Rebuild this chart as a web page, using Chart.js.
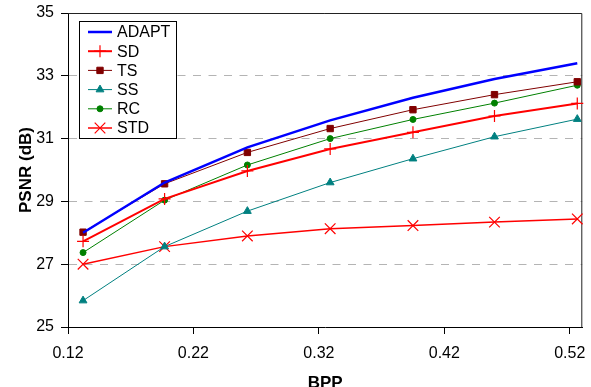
<!DOCTYPE html>
<html>
<head>
<meta charset="utf-8">
<script src="https://cdn.jsdelivr.net/npm/chart.js@4.4.1/dist/chart.umd.min.js"></script>
<style>
  html, body { margin: 0; padding: 0; background: #fff; }
  #wrap { width: 591px; height: 387px; }
</style>
</head>
<body>
<div id="wrap"><canvas id="psnrChart" width="591" height="387"></canvas></div>
<script>
// valeurs
const bpp = [0.132, 0.197, 0.263, 0.329, 0.395, 0.460, 0.526];
const adapt = [28.0, 29.6, 30.72, 31.58, 32.3, 32.9, 33.4];
const sd = [27.73, 29.08, 29.97, 30.67, 31.2, 31.72, 32.12];
const ts = [28.02, 29.56, 30.56, 31.32, 31.92, 32.4, 32.81];
const ss = [25.84, 27.56, 28.69, 29.6, 30.36, 31.06, 31.62];
const rc = [27.37, 29.04, 30.16, 31.0, 31.61, 32.13, 32.7];
const std = [27.0, 27.56, 27.9, 28.13, 28.23, 28.34, 28.44];
const xTickValues = [0.12, 0.22, 0.32, 0.42, 0.52];
const xTickLabels = ['0.12', '0.22', '0.32', '0.42', '0.52'];
const gridValues = [27, 29, 31, 33];

const FONT = '"Liberation Sans", Arial, sans-serif';
Chart.defaults.font.family = FONT;
Chart.defaults.font.size = 16;
Chart.defaults.color = '#000';

function toPoints(values) {
  return values.map((v, i) => ({ x: bpp[i], y: v }));
}

function makeSeries(label, values, color, width, style, radius, markerWidth) {
  return {
    label: label,
    data: toPoints(values),
    borderColor: color,
    backgroundColor: color,
    borderWidth: width,
    pointStyle: style,
    pointRadius: radius,
    pointHoverRadius: radius,
    pointBackgroundColor: color,
    pointBorderColor: color,
    pointBorderWidth: markerWidth,
    tension: 0,
    clip: false
  };
}

// légende dessinée dans la zone du graphique
const legendBox = {
  id: 'legendBox',
  afterDraw(chart) {
    const ctx = chart.ctx;
    ctx.save();
    ctx.fillStyle = '#fff';
    ctx.fillRect(79.5, 21.5, 97, 117);
    ctx.strokeStyle = '#000';
    ctx.lineWidth = 1;
    ctx.strokeRect(79.5, 21.5, 97, 117);
    ctx.font = '16px ' + FONT;
    ctx.textBaseline = 'middle';
    ctx.textAlign = 'left';
    chart.data.datasets.forEach((ds, i) => {
      const y = 32 + i * 19.2;
      ctx.strokeStyle = ds.borderColor;
      ctx.lineWidth = ds.borderWidth;
      ctx.beginPath();
      ctx.moveTo(88, y);
      ctx.lineTo(112, y);
      ctx.stroke();
      if (ds.pointRadius > 0) {
        ctx.fillStyle = ds.pointBackgroundColor;
        ctx.strokeStyle = ds.pointBorderColor;
        ctx.lineWidth = ds.pointBorderWidth;
        Chart.helpers.drawPoint(ctx, {
          pointStyle: ds.pointStyle, radius: ds.pointRadius, rotation: 0, borderWidth: ds.pointBorderWidth
        }, 100, y);
      }
      ctx.fillStyle = '#000';
      ctx.fillText(ds.label, 117, y + 1);
    });
    ctx.restore();
  }
};

// cadre haut et droite
const frame = {
  id: 'frame',
  beforeDatasetsDraw(chart) {
    const a = chart.chartArea;
    const ctx = chart.ctx;
    ctx.save();
    ctx.strokeStyle = '#222';
    ctx.lineWidth = 1;
    ctx.beginPath();
    ctx.moveTo(a.left, a.top + 0.5);
    ctx.lineTo(a.right - 0.5, a.top + 0.5);
    ctx.lineTo(a.right - 0.5, a.bottom);
    ctx.stroke();
    ctx.restore();
  }
};

new Chart(document.getElementById('psnrChart').getContext('2d'), {
  type: 'line',
  data: {
    datasets: [
      makeSeries('ADAPT', adapt, '#0000ff', 2.5, 'circle', 0, 0),
      makeSeries('SD', sd, '#ff0000', 2, 'cross', 6, 1.2),
      makeSeries('TS', ts, '#800000', 1, 'rect', 4.5, 1),
      makeSeries('SS', ss, '#008080', 1, 'triangle', 4.5, 1),
      makeSeries('RC', rc, '#008000', 1, 'circle', 3, 1),
      makeSeries('STD', std, '#ff0000', 1.5, 'crossRot', 7.5, 1.2)
    ]
  },
  options: {
    responsive: false,
    animation: false,
    devicePixelRatio: 1,
    layout: { padding: { left: 0, right: 7, top: 13, bottom: 0 } },
    plugins: { legend: { display: false }, tooltip: { enabled: false } },
    scales: {
      x: {
        type: 'linear',
        min: 0.12,
        max: 0.53,
        afterBuildTicks: function (scale) {
          scale.ticks = xTickValues.map(v => ({ value: v }));
        },
        afterFit: function (scale) {
          scale.height = 60;
          scale.paddingLeft = 0;
          scale.paddingRight = 0;
        },
        ticks: {
          padding: 10,
          maxRotation: 0,
          autoSkip: false,
          callback: function (value, index) { return xTickLabels[index]; }
        },
        grid: { drawOnChartArea: false, drawTicks: true, tickLength: 7, tickColor: '#000' },
        border: { display: true, color: '#000', width: 1 },
        title: { display: true, text: 'BPP', font: { weight: 'bold', size: 17 }, padding: { top: 0, bottom: -6.5 } }
      },
      y: {
        min: 25,
        max: 35,
        ticks: { stepSize: 2, padding: 7 },
        afterFit: function (scale) {
          scale.width = 68;
          scale.paddingTop = 0;
          scale.paddingBottom = 0;
        },
        grid: {
          drawTicks: true,
          tickLength: 7,
          tickColor: '#000',
          lineWidth: 1,
          color: function (c) {
            return gridValues.includes(c.tick && c.tick.value) ? '#b4b4b4' : 'rgba(0,0,0,0)';
          }
        },
        border: { display: true, color: '#000', width: 1, dash: [8, 7.5] },
        title: { display: true, text: 'PSNR (dB)', font: { weight: 'bold', size: 17 }, padding: { top: 16, bottom: 0 } }
      }
    }
  },
  plugins: [frame, legendBox]
});
</script>
</body>
</html>
